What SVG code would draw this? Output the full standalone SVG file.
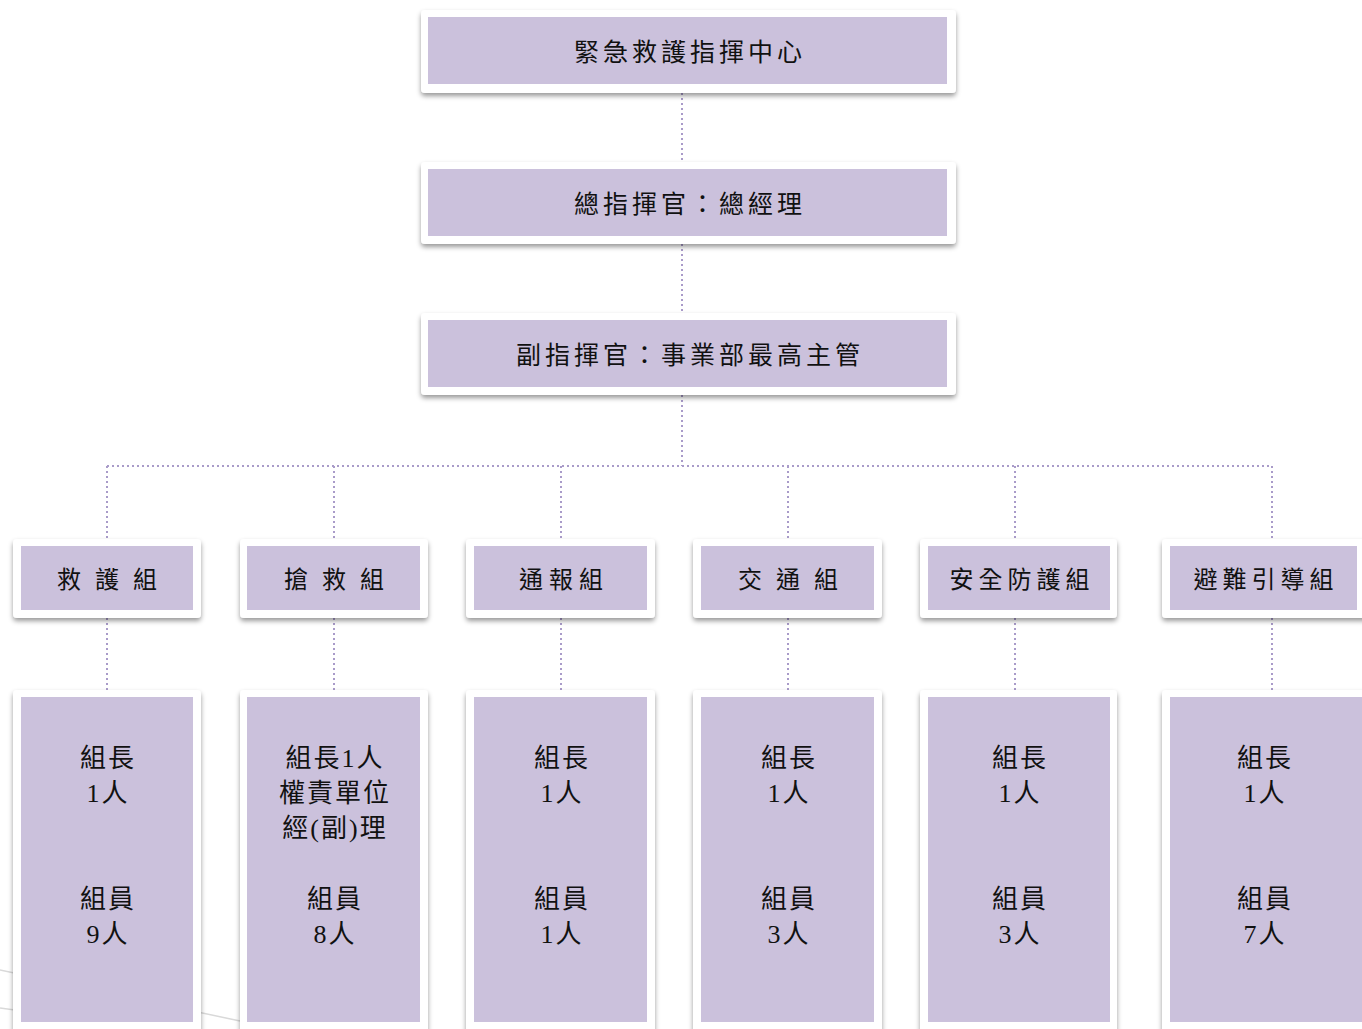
<svg xmlns="http://www.w3.org/2000/svg" width="1362" height="1029" viewBox="0 0 1362 1029">
<defs>
<filter id="sh" x="-5%" y="-10%" width="110%" height="130%">
<feDropShadow dx="0" dy="3" stdDeviation="2.5" flood-color="#000" flood-opacity="0.4"/>
</filter>
</defs>
<style>
.card{fill:#ffffff;filter:url(#sh)}
.in{fill:#cbc1dc}
.t{font-family:"Liberation Serif","Noto Sans CJK TC",serif;fill:#111;text-anchor:middle;dominant-baseline:central}
.big{font-size:25px;letter-spacing:4px}
.mid{font-size:24px}
.sm{font-size:26px;letter-spacing:2px}
.con{fill:none;stroke:#a99bc9;stroke-width:2;stroke-dasharray:2 3}
.bg{fill:none;stroke:#d9d9d9;stroke-width:1.5}
</style>
<g id="background">
<path class="bg" d="M0 970 L240 1021"/>
<path class="bg" d="M0 1008 L200 1035"/>
</g>
<g id="connectors">
<path class="con" d="M682 93 V162 M682 244 V313 M682 395 V466"/>
<path class="con" d="M107 466 H1272"/>
<path class="con" d="M107 466 V539 M334 466 V539 M561 466 V539 M788 466 V539 M1015 466 V539 M1272 466 V539"/>
<path class="con" d="M107 618 V690 M334 618 V690 M561 618 V690 M788 618 V690 M1015 618 V690 M1272 618 V690"/>
</g>
<g id="n-center">
<rect class="card" x="421" y="10" width="535" height="83" rx="4"/>
<rect class="in" x="428" y="17" width="519" height="67"/>
<text class="t big" x="690" y="52">緊急救護指揮中心</text>
</g>
<g id="n-commander">
<rect class="card" x="421" y="162" width="535" height="82" rx="4"/>
<rect class="in" x="428" y="169" width="519" height="67"/>
<text class="t big" x="690" y="204">總指揮官：總經理</text>
</g>
<g id="n-deputy">
<rect class="card" x="421" y="313" width="535" height="82" rx="4"/>
<rect class="in" x="428" y="320" width="519" height="67"/>
<text class="t big" x="690" y="355">副指揮官：事業部最高主管</text>
</g>
<g id="g1">
<rect class="card" x="13" y="539" width="188" height="79" rx="4"/>
<rect class="in" x="21" y="546" width="172" height="64"/>
<text class="t mid" x="109" y="580" style="letter-spacing:4px">救 護 組</text>
</g>
<g id="g2">
<rect class="card" x="240" y="539" width="188" height="79" rx="4"/>
<rect class="in" x="247" y="546" width="173" height="64"/>
<text class="t mid" x="336" y="580" style="letter-spacing:4px">搶 救 組</text>
</g>
<g id="g3">
<rect class="card" x="466" y="539" width="189" height="79" rx="4"/>
<rect class="in" x="474" y="546" width="173" height="64"/>
<text class="t mid" x="564" y="580" style="letter-spacing:6px">通報組</text>
</g>
<g id="g4">
<rect class="card" x="693" y="539" width="189" height="79" rx="4"/>
<rect class="in" x="701" y="546" width="173" height="64"/>
<text class="t mid" x="790" y="580" style="letter-spacing:4px">交 通 組</text>
</g>
<g id="g5">
<rect class="card" x="920" y="539" width="197" height="79" rx="4"/>
<rect class="in" x="928" y="546" width="182" height="64"/>
<text class="t mid" x="1022" y="580" style="letter-spacing:5px">安全防護組</text>
</g>
<g id="g6">
<rect class="card" x="1162" y="539" width="210" height="79" rx="4"/>
<rect class="in" x="1170" y="546" width="187" height="64"/>
<text class="t mid" x="1266" y="580" style="letter-spacing:5px">避難引導組</text>
</g>
<g id="m1">
<rect class="card" x="13" y="690" width="188" height="350" rx="4"/>
<rect class="in" x="21" y="697" width="172" height="325"/>
<text class="t sm" x="108"><tspan x="108" y="758">組長</tspan><tspan x="108" y="793">1人</tspan><tspan x="108" y="899">組員</tspan><tspan x="108" y="934">9人</tspan></text>
</g>
<g id="m2">
<rect class="card" x="240" y="690" width="188" height="350" rx="4"/>
<rect class="in" x="247" y="697" width="173" height="325"/>
<text class="t sm" x="335"><tspan x="335" y="758">組長1人</tspan><tspan x="335" y="793">權責單位</tspan><tspan x="335" y="828">經(副)理</tspan><tspan x="335" y="899">組員</tspan><tspan x="335" y="934">8人</tspan></text>
</g>
<g id="m3">
<rect class="card" x="466" y="690" width="189" height="350" rx="4"/>
<rect class="in" x="474" y="697" width="173" height="325"/>
<text class="t sm" x="562"><tspan x="562" y="758">組長</tspan><tspan x="562" y="793">1人</tspan><tspan x="562" y="899">組員</tspan><tspan x="562" y="934">1人</tspan></text>
</g>
<g id="m4">
<rect class="card" x="693" y="690" width="189" height="350" rx="4"/>
<rect class="in" x="701" y="697" width="173" height="325"/>
<text class="t sm" x="789"><tspan x="789" y="758">組長</tspan><tspan x="789" y="793">1人</tspan><tspan x="789" y="899">組員</tspan><tspan x="789" y="934">3人</tspan></text>
</g>
<g id="m5">
<rect class="card" x="920" y="690" width="197" height="350" rx="4"/>
<rect class="in" x="928" y="697" width="182" height="325"/>
<text class="t sm" x="1020"><tspan x="1020" y="758">組長</tspan><tspan x="1020" y="793">1人</tspan><tspan x="1020" y="899">組員</tspan><tspan x="1020" y="934">3人</tspan></text>
</g>
<g id="m6">
<rect class="card" x="1162" y="690" width="210" height="350" rx="4"/>
<rect class="in" x="1170" y="697" width="192" height="325"/>
<text class="t sm" x="1265"><tspan x="1265" y="758">組長</tspan><tspan x="1265" y="793">1人</tspan><tspan x="1265" y="899">組員</tspan><tspan x="1265" y="934">7人</tspan></text>
</g>
</svg>
